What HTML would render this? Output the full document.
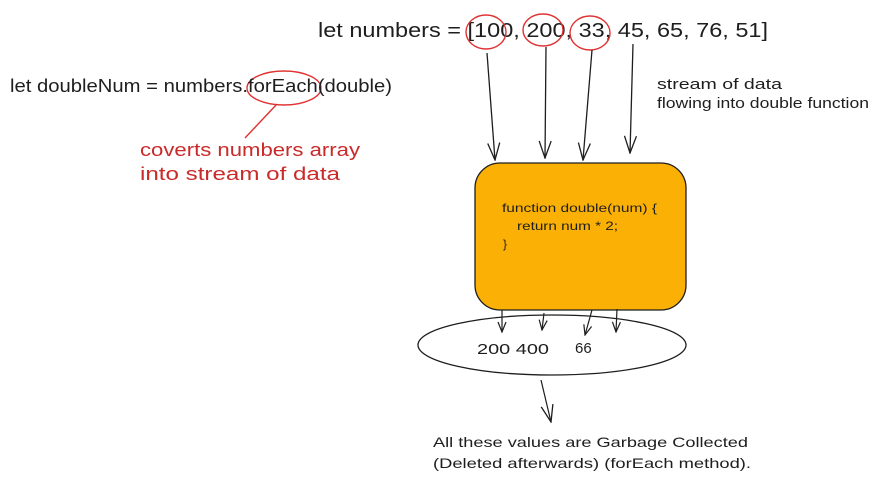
<!DOCTYPE html>
<html><head><meta charset="utf-8"><style>html,body{margin:0;padding:0;background:#fff}svg{display:block}text{font-family:"Liberation Sans",sans-serif}</style></head>
<body>
<svg width="881" height="483" viewBox="0 0 881 483" xmlns="http://www.w3.org/2000/svg">
<defs><marker id="a" markerWidth="20" markerHeight="14" refX="19" refY="7" orient="auto" markerUnits="userSpaceOnUse"><path d="M2 1 L19 7 L2 13" fill="none" stroke="#1e1e1e" stroke-width="1.3"/></marker>
<marker id="s" markerWidth="14" markerHeight="10" refX="13" refY="5" orient="auto" markerUnits="userSpaceOnUse"><path d="M3 1 L13 5 L3 9" fill="none" stroke="#1e1e1e" stroke-width="1.2"/></marker></defs>
<text x="318" y="37" font-size="20" fill="#1e1e1e" textLength="450" lengthAdjust="spacingAndGlyphs">let numbers = [100, 200, 33, 45, 65, 76, 51]</text>
<g fill="none" stroke="#e03131" stroke-width="1.4">
<ellipse cx="486" cy="32" rx="20" ry="17"/><ellipse cx="543" cy="30" rx="20" ry="16"/><ellipse cx="590" cy="33" rx="20" ry="17"/>
<ellipse cx="284" cy="88" rx="37" ry="17"/><path d="M277 104 L245 138"/></g>
<g stroke="#1e1e1e" stroke-width="1.3" fill="none">
<path d="M487 53 L495 160" marker-end="url(#a)"/><path d="M546 47 L545 158" marker-end="url(#a)"/><path d="M592 50 L583 160" marker-end="url(#a)"/><path d="M633 44 L630 153" marker-end="url(#a)"/>
</g>
<text x="10" y="92" font-size="18" fill="#1e1e1e" textLength="382" lengthAdjust="spacingAndGlyphs">let doubleNum = numbers.forEach(double)</text>
<text x="140" y="156" font-size="18" fill="#c92a2a" textLength="220" lengthAdjust="spacingAndGlyphs">coverts numbers array</text>
<text x="140" y="180" font-size="18" fill="#c92a2a" textLength="200" lengthAdjust="spacingAndGlyphs">into stream of data</text>
<text x="657" y="89" font-size="15" fill="#1e1e1e" textLength="125" lengthAdjust="spacingAndGlyphs">stream of data</text>
<text x="657" y="108" font-size="15" fill="#1e1e1e" textLength="212" lengthAdjust="spacingAndGlyphs">flowing into double function</text>
<rect x="475" y="163" width="211" height="147" rx="25" fill="#fab005" stroke="#1e1e1e" stroke-width="1.3"/>
<text x="502" y="212" font-size="12" fill="#1e1e1e" textLength="155" lengthAdjust="spacingAndGlyphs">function double(num) {</text>
<text x="517" y="230" font-size="12" fill="#1e1e1e" textLength="101" lengthAdjust="spacingAndGlyphs">return num * 2;</text>
<text x="503" y="248" font-size="12" fill="#1e1e1e">}</text>
<ellipse cx="552" cy="345" rx="134" ry="30" fill="#fff" stroke="#1e1e1e" stroke-width="1.3"/>
<g stroke="#1e1e1e" stroke-width="1.2" fill="none">
<path d="M502 310 L502 332" marker-end="url(#s)"/><path d="M544 313 L542 330" marker-end="url(#s)"/><path d="M592 310 L585 335" marker-end="url(#s)"/><path d="M617 309 L616 332" marker-end="url(#s)"/>
<path d="M541 380 L551 422" marker-end="url(#a)"/></g>
<text x="477" y="354" font-size="15" fill="#1e1e1e" textLength="72" lengthAdjust="spacingAndGlyphs">200 400</text>
<text x="575" y="353" font-size="15" fill="#1e1e1e">66</text>
<text x="433" y="447" font-size="14" fill="#1e1e1e" textLength="315" lengthAdjust="spacingAndGlyphs">All these values are Garbage Collected</text>
<text x="433" y="468" font-size="14" fill="#1e1e1e" textLength="318" lengthAdjust="spacingAndGlyphs">(Deleted afterwards) (forEach method).</text>
</svg>
</body></html>
